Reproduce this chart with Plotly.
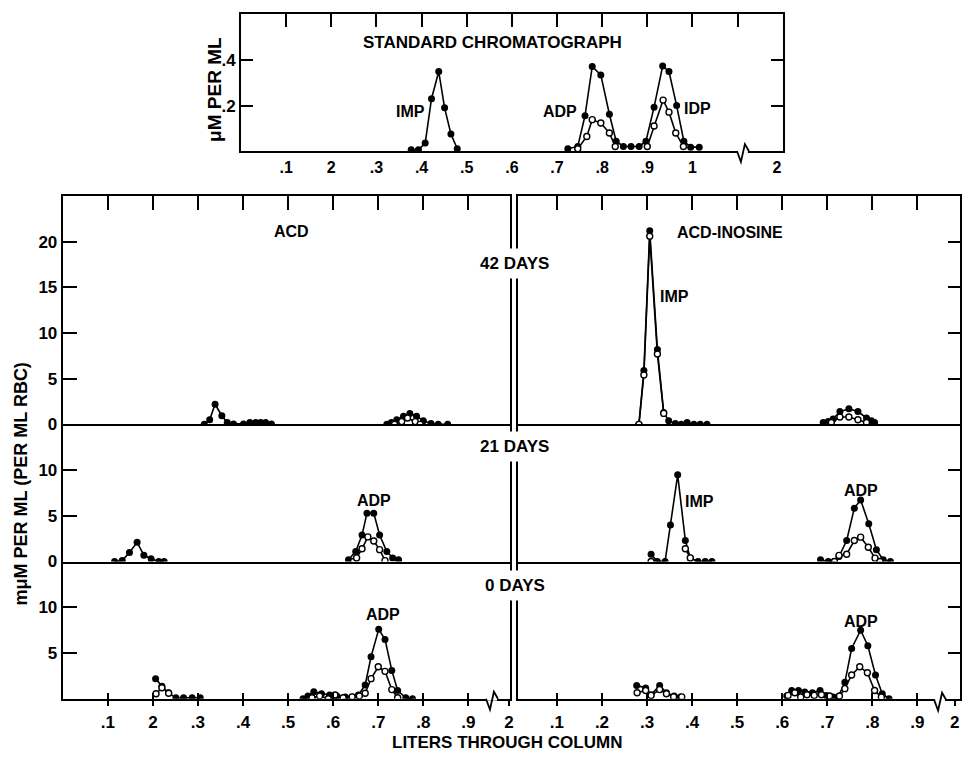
import plotly.graph_objects as go

W, H = 964, 762
def px(x): return x / W
def py(y): return 1 - y / H

# ---------------- DATA ----------------
# Standard chromatograph (top panel), liters vs uM per ml
std_imp_x = [0.377, 0.393, 0.408, 0.422, 0.438, 0.451, 0.465, 0.479]
std_imp_y = [0.005, 0.005, 0.035, 0.23, 0.35, 0.19, 0.075, 0.01]
std_fill_x = [0.724, 0.746, 0.762, 0.778, 0.797, 0.816, 0.831, 0.847, 0.864, 0.882,
              0.897, 0.915, 0.934, 0.948, 0.965, 0.981, 0.996, 1.015]
std_fill_y = [0.01, 0.02, 0.155, 0.372, 0.335, 0.162, 0.043, 0.02, 0.02, 0.02,
              0.043, 0.193, 0.374, 0.35, 0.2, 0.043, 0.017, 0.017]
std_open_x = [0.746, 0.766, 0.778, 0.797, 0.816, 0.829, None,
              0.900, 0.915, 0.935, 0.948, 0.963, 0.980]
std_open_y = [0.01, 0.064, 0.138, 0.123, 0.079, 0.02, None,
              0.02, 0.11, 0.224, 0.171, 0.079, 0.02]

# ACD, 42 days
acd42_fill_x = [0.314, 0.326, 0.338, 0.353, 0.365, 0.379, 0.401, 0.415, 0.428, 0.439, 0.45, 0.463, None,
                0.719, 0.729, 0.741, 0.756, 0.77, 0.785, 0.8, 0.817, 0.833, 0.854]
acd42_fill_y = [0, 0.5, 2.2, 0.95, 0.2, 0.05, 0.05, 0.2, 0.2, 0.2, 0.2, 0.05, None,
                0, 0.2, 0.5, 0.9, 1.2, 0.9, 0.4, 0.1, 0, 0]
acd42_open_x = [0.736, 0.752, 0.765, 0.782, 0.793]
acd42_open_y = [0, 0.3, 0.7, 0.3, 0]

# ACD-inosine, 42 days
ino42_fill_x = [0.282, 0.293, 0.306, 0.323, 0.337, 0.348, 0.363, 0.376, 0.389, 0.404, 0.418, 0.433, None,
                0.691, 0.702, 0.713, 0.728, 0.748, 0.768, 0.787, 0.798, 0.805]
ino42_fill_y = [0, 5.9, 21.2, 8.2, 1.3, 0.4, 0.1, 0, 0.2, 0, 0, 0, None,
                0.2, 0.3, 0.6, 1.4, 1.7, 1.4, 0.7, 0.4, 0.2]
ino42_open_x = [0.282, 0.293, 0.306, 0.323, 0.337, None, 0.709, 0.728, 0.748, 0.768, 0.787]
ino42_open_y = [0, 5.4, 20.6, 7.7, 1.2, None, 0.2, 0.8, 0.8, 0.5, 0.2]

# ACD, 21 days
acd21_fill_x = [0.115, 0.132, 0.148, 0.165, 0.18, 0.196, 0.213, 0.225, None,
                0.634, 0.65, 0.664, 0.675, 0.69, 0.703, 0.719, 0.732, 0.745]
acd21_fill_y = [0, 0.1, 1.0, 2.1, 0.7, 0.3, 0, 0, None,
                0.2, 1.1, 2.9, 5.3, 5.3, 2.9, 1.1, 0.4, 0.2]
acd21_open_x = [0.645, 0.652, 0.664, 0.677, 0.69, 0.703, 0.715]
acd21_open_y = [0, 0.4, 1.4, 2.7, 2.25, 1.3, 0.1]

# ACD-inosine, 21 days
ino21_fill_x = [0.309, 0.323, 0.34, 0.352, 0.368, 0.385, 0.396, 0.413, 0.429, 0.444, None,
                0.685, 0.702, 0.715, 0.726, 0.743, 0.76, 0.774, 0.792, 0.809, 0.824, 0.84]
ino21_fill_y = [0.8, 0, 0, 4.0, 9.5, 2.3, 0.4, 0, 0, 0, None,
                0.2, 0, 0, 0.55, 2.3, 5.85, 6.75, 4.15, 1.3, 0.2, 0]
ino21_open_x = [0.309, None, 0.385, 0.396, None,
                0.716, 0.726, 0.743, 0.76, 0.774, 0.791, 0.806, 0.817]
ino21_open_y = [0, None, 1.4, 0.4, None,
                0, 0.67, 0.8, 2.3, 2.67, 1.56, 0.37, 0]

# ACD, 0 days
acd0_fill_x = [0.206, 0.22, 0.235, 0.251, 0.268, 0.287, 0.305, None,
               0.533, 0.544, 0.557, 0.574, 0.592, 0.608, 0.627, 0.642, 0.656, 0.671, 0.684,
               0.701, 0.715, 0.73, 0.743, 0.761, 0.776]
acd0_fill_y = [2.2, 1.36, 0.64, 0.1, 0.1, 0.1, 0.1, None,
               0, 0.3, 0.75, 0.54, 0.4, 0.3, 0.2, 0.2, 0.4, 1.5, 4.6,
               7.6, 6.5, 3.1, 0.9, 0.1, 0]
acd0_open_x = [0.207, 0.22, 0.235, None,
               0.553, 0.57, 0.589, 0.604, 0.622, 0.642, 0.658, 0.671, 0.684, 0.7, 0.715, 0.73, 0.743]
acd0_open_y = [0.55, 1.2, 0.6, None,
               0.1, 0.3, 0, 0.4, 0.1, 0.2, 0.3, 0.6, 2.2, 3.5, 3.0, 1.0, 0.1]

# ACD-inosine, 0 days
ino0_fill_x = [0.277, 0.297, 0.309, 0.328, 0.343, 0.36, 0.374, None,
               0.61, 0.621, 0.636, 0.65, 0.667, 0.684, 0.698, 0.713, 0.724, 0.739, 0.754,
               0.774, 0.79, 0.807, 0.822, 0.837]
ino0_fill_y = [1.46, 1.17, 0.44, 1.46, 0.66, 0.3, 0.2, None,
               0.3, 0.9, 0.9, 0.73, 0.66, 0.9, 0.36, 0.18, 0.18, 1.8, 5.5,
               7.5, 5.8, 2.6, 0.55, 0]
ino0_open_x = [0.278, 0.297, 0.309, 0.328, 0.343, 0.359, 0.377, None,
               0.613, 0.628, 0.641, 0.655, 0.671, 0.687, 0.705, 0.727, 0.739, 0.754, 0.772,
               0.789, 0.805, 0.82]
ino0_open_y = [0.66, 0.9, 0.36, 1.0, 0.55, 0.2, 0.2, None,
               0.36, 0.66, 0.18, 0.44, 0.36, 0.44, 0.3, 0.3, 1.1, 2.6, 3.5,
               2.85, 0.9, 0.18]

# Tick labels
top_tick_vals = [0.1, 0.2, 0.3, 0.4, 0.5, 0.6, 0.7, 0.8, 0.9, 1.0, 1.187]
top_tick_text = [".1", "2", ".3", ".4", ".5", ".6", ".7", ".8", ".9", "1", "2"]
top_minor_ticks = [0.1, 0.2, 0.3, 0.4, 0.5, 0.6, 0.7, 0.8, 0.9, 1.0, 1.1]
bot_ticks = [0.1, 0.2, 0.3, 0.4, 0.5, 0.6, 0.7, 0.8, 0.9]
left_bot_vals = bot_ticks + [0.99]
left_bot_text = [".1", "2", ".3", ".4", ".5", ".6", ".7", ".8", ".9", "2"]
right_bot_vals = bot_ticks + [0.983]
right_bot_text = [".1", ".2", ".3", ".4", ".5", ".6", ".7", ".8", ".9", "2"]

# ---------------- FIGURE ----------------
FONT = "Liberation Sans, Arial, sans-serif"
fig = go.Figure()

def add(x, y, xa, ya, filled):
    if filled:
        marker = dict(size=7, color="black")
    else:
        marker = dict(size=6, color="white", line=dict(color="black", width=1.4))
    fig.add_trace(go.Scatter(x=x, y=y, xaxis=xa, yaxis=ya, mode="lines+markers",
                             line=dict(color="black", width=1.6), marker=marker,
                             showlegend=False, hoverinfo="skip", connectgaps=False))

add(std_imp_x, std_imp_y, "x", "y", True)
add(std_fill_x, std_fill_y, "x", "y", True)
add(std_open_x, std_open_y, "x", "y", False)
add(acd42_fill_x, acd42_fill_y, "x2", "y2", True)
add(acd42_open_x, acd42_open_y, "x2", "y2", False)
add(acd21_fill_x, acd21_fill_y, "x3", "y3", True)
add(acd21_open_x, acd21_open_y, "x3", "y3", False)
add(acd0_fill_x, acd0_fill_y, "x4", "y4", True)
add(acd0_open_x, acd0_open_y, "x4", "y4", False)
add(ino42_fill_x, ino42_fill_y, "x5", "y5", True)
add(ino42_open_x, ino42_open_y, "x5", "y5", False)
add(ino21_fill_x, ino21_fill_y, "x6", "y6", True)
add(ino21_open_x, ino21_open_y, "x6", "y6", False)
add(ino0_fill_x, ino0_fill_y, "x7", "y7", True)
add(ino0_open_x, ino0_open_y, "x7", "y7", False)

# empty traces so that overlay axes get drawn
for xa, ya in [("x8", "y"), ("x9", "y4"), ("x10", "y7")]:
    fig.add_trace(go.Scatter(x=[], y=[], xaxis=xa, yaxis=ya, showlegend=False, hoverinfo="skip"))

base = dict(showgrid=False, zeroline=False, linecolor="black", linewidth=2,
            tickcolor="black", tickwidth=2, fixedrange=True,
            tickfont=dict(family=FONT, size=17, color="black", weight="bold"))

def ax(**kw):
    d = dict(base)
    d.update(kw)
    return d

LEFT_DOM = [px(63), px(512)]
LEFT_RANGE = [0, 0.992]
RIGHT_DOM = [px(520), 1.0]
RIGHT_RANGE = [0.0133, 0.9945]
ROW42 = [py(430), py(199)]
ROW21 = [py(569), py(430)]
ROW0 = [py(708), py(569)]
R42 = [0, 24.97]
R15 = [0, 15.03]

layout_axes = dict(
    xaxis=ax(domain=[px(242), px(786)], range=[0, 1.2], anchor="y", showline=True, mirror=True,
             ticks="", tickvals=top_tick_vals, ticktext=top_tick_text, ticklabelstandoff=1,
             tickfont=dict(family=FONT, size=16, color="black", weight="bold")),
    xaxis8=ax(overlaying="x", anchor="y", side="top", range=[0, 1.2], ticks="inside", ticklen=13,
              tickvals=top_minor_ticks, showticklabels=False, showline=False),
    yaxis=ax(domain=[py(153), py(14)], range=[0, 0.604], anchor="x", showline=True, mirror="ticks",
             ticks="inside", ticklen=12, tickvals=[0.2, 0.4], ticktext=[".2", ".4"],
             tickfont=dict(family=FONT, size=17, color="black", weight="bold")),

    xaxis2=ax(domain=LEFT_DOM, range=LEFT_RANGE, anchor="y2", side="top", showline=True, mirror=True,
              ticks="inside", ticklen=14, tickvals=bot_ticks, showticklabels=False),
    yaxis2=ax(domain=ROW42, range=R42, anchor="x2", showline=True, mirror=True, ticks="inside",
              ticklen=14, tickvals=[0, 5, 10, 15, 20], ticktext=["0", "5", "10", "15", "20"]),
    xaxis3=ax(domain=LEFT_DOM, range=LEFT_RANGE, anchor="y3", showline=True, ticks="",
              showticklabels=False),
    yaxis3=ax(domain=ROW21, range=R15, anchor="x3", showline=True, mirror=True, ticks="inside",
              ticklen=14, tickvals=[0, 5, 10], ticktext=["0", "5", "10"]),
    xaxis4=ax(domain=LEFT_DOM, range=LEFT_RANGE, anchor="y4", showline=True, ticks="outside",
              ticklen=5, tickvals=left_bot_vals, ticktext=left_bot_text, ticklabelstandoff=2),
    xaxis9=ax(overlaying="x4", anchor="y4", range=LEFT_RANGE, ticks="inside", ticklen=6,
              tickvals=bot_ticks, showticklabels=False, showline=False),
    yaxis4=ax(domain=ROW0, range=R15, anchor="x4", showline=True, mirror=True, ticks="inside",
              ticklen=14, tickvals=[5, 10], ticktext=["5", "10"]),

    xaxis5=ax(domain=RIGHT_DOM, range=RIGHT_RANGE, anchor="y5", side="top", showline=True, mirror=True,
              ticks="inside", ticklen=14, tickvals=bot_ticks, showticklabels=False),
    yaxis5=ax(domain=ROW42, range=R42, anchor="x5", side="right", showline=True, mirror=True,
              ticks="inside", ticklen=12, tickvals=[5, 10, 15, 20], showticklabels=False),
    xaxis6=ax(domain=RIGHT_DOM, range=RIGHT_RANGE, anchor="y6", showline=True, ticks="",
              showticklabels=False),
    yaxis6=ax(domain=ROW21, range=R15, anchor="x6", side="right", showline=True, mirror=True,
              ticks="inside", ticklen=12, tickvals=[5, 10], showticklabels=False),
    xaxis7=ax(domain=RIGHT_DOM, range=RIGHT_RANGE, anchor="y7", showline=True, ticks="outside",
              ticklen=5, tickvals=right_bot_vals, ticktext=right_bot_text, ticklabelstandoff=2,
              ticklabeloverflow="allow"),
    xaxis10=ax(overlaying="x7", anchor="y7", range=RIGHT_RANGE, ticks="inside", ticklen=6,
               tickvals=bot_ticks, showticklabels=False, showline=False),
    yaxis7=ax(domain=ROW0, range=R15, anchor="x7", side="right", showline=True, mirror=True,
              ticks="inside", ticklen=12, tickvals=[5, 10], showticklabels=False),
)

def label(text, x, y, size=16, angle=0, bg=None, pad=1):
    d = dict(text=text, x=px(x), y=py(y), xref="paper", yref="paper", showarrow=False,
             xanchor="center", yanchor="middle", textangle=angle,
             font=dict(family=FONT, size=size, color="black", weight="bold"), borderpad=pad)
    if bg:
        d["bgcolor"] = bg
    return d

annotations = [
    label("STANDARD CHROMATOGRAPH", 495, 43, 17),
    label("IMP", 412, 113),
    label("ADP", 562, 113),
    label("IDP", 700, 110),
    label("μM PER ML", 216, 91, 19, -90),
    label("ACD", 293, 235),
    label("ACD-INOSINE", 733, 236),
    label("42 DAYS", 517, 267, 17, bg="white", pad=5),
    label("IMP", 677, 300),
    label("21 DAYS", 517, 452, 17, bg="white", pad=5),
    label("ADP", 376, 507),
    label("IMP", 702, 508),
    label("ADP", 865, 497),
    label("0 DAYS", 517, 593, 17, bg="white", pad=5),
    label("ADP", 385, 623),
    label("ADP", 865, 630),
    label("LITERS THROUGH COLUMN", 509, 752, 17),
    label("mμM PER ML (PER ML RBC)", 21, 490, 18, -90),
]

def brk(x0, yb):
    # axis break zigzag (pixel coords)
    pts = [(x0 - 6, yb), (x0 - 2, yb + 11), (x0 + 2, yb - 7), (x0 + 6, yb)]
    path = "M " + " L ".join(f"{px(a):.5f},{py(b):.5f}" for a, b in pts)
    return [
        dict(type="rect", xref="paper", yref="paper", x0=px(x0 - 5), x1=px(x0 + 5),
             y0=py(yb + 2), y1=py(yb - 2), fillcolor="white", line=dict(width=0), layer="above"),
        dict(type="path", xref="paper", yref="paper", path=path,
             line=dict(color="black", width=1.8), layer="above"),
    ]

shapes = brk(746, 153) + brk(494, 708) + brk(944, 709)

fig.update_layout(
    width=W, height=H, margin=dict(l=0, r=0, t=0, b=0),
    paper_bgcolor="white", plot_bgcolor="rgba(0,0,0,0)",
    annotations=annotations, shapes=shapes, showlegend=False,
    **layout_axes,
)

# remove the default page margin so the 964x762 figure fills the window exactly
PAGE_JS = ("document.body.style.margin='0px';"
           "document.body.style.overflow='hidden';"
           "document.documentElement.style.overflow='hidden';")
fig.write_html("out.html", post_script=PAGE_JS, config={"displayModeBar": False})
